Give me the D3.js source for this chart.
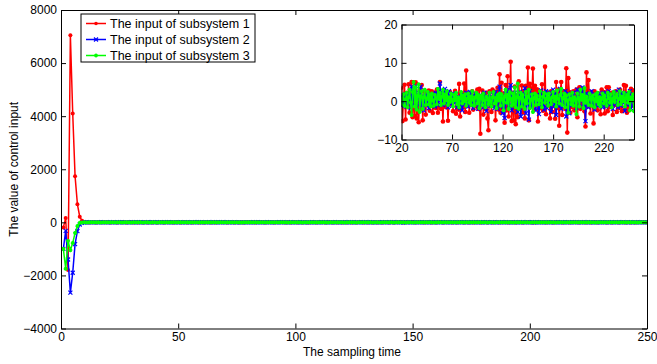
<!DOCTYPE html>
<html><head><meta charset="utf-8">
<script src="https://cdn.jsdelivr.net/npm/d3@7"></script>
<style>
html,body{margin:0;padding:0;background:#fff;}
svg{display:block;font-family:"Liberation Sans",Arial,Helvetica,sans-serif;}
</style></head>
<body>
<script>
// ---------- DATA (t = 1..250) ----------
const seriesNames = ["The input of subsystem 1","The input of subsystem 2","The input of subsystem 3"];
const seriesColors = ["#ff0000","#0000ff","#00ff00"];
const mainXTicks = [0,50,100,150,200,250];
const mainYTicks = [-4000,-2000,0,2000,4000,6000,8000];
const insetXTicks = [20,70,120,170,220];
const insetYTicks = [-10,0,10,20];

const red = [
-190,160,-1800,7050,4100,1740,680,210,60,15,
4,-2,3,1,-2,2,-1,3,-1,
3.5,-5.2,1.0,4.3,-4.8,2.1,-1.5,4.4,-3.0,0.5,
5.0,-4.2,2.0,-3.8,4.9,-4.5,1.2,-5.5,3.0,-2.0,
4.2,-5.0,0.8,2.5,-3.5,2.0,-1.0,2.8,-2.5,1.5,
2.6,-3.1,0.5,2.2,-1.8,3.0,-3.0,1.2,5.0,-2.0,
1.8,-5.3,2.5,0.4,-1.6,2.2,-5.1,1.0,2.4,-0.8,
1.5,-2.6,0.8,2.7,-3.3,1.2,-2.2,4.5,-4.0,0.6,
2.0,-1.5,4.6,-2.8,8.0,-1.2,2.1,-3.0,1.6,-1.0,
2.6,-2.2,0.7,1.8,-1.4,3.0,-2.0,3.2,-8.5,0.8,
2.8,-3.5,1.6,-2.0,2.2,-4.5,-7.6,2.6,0.4,-2.8,
3.0,-1.2,2.5,-5.0,1.4,3.5,-2.2,7.0,-3.0,4.8,
-1.8,2.0,-5.6,4.2,-2.4,6.5,-4.0,1.0,10.3,-5.2,
2.2,-5.0,3.8,-6.0,1.5,-4.2,5.2,-2.0,0.6,4.1,
-3.0,2.6,-4.5,4.0,1.2,8.8,-5.0,4.5,3.3,2.0,
8.5,-2.2,4.0,-0.8,3.1,-5.3,2.4,1.5,-1.8,4.4,
-2.5,1.0,9.0,-3.4,2.3,-1.0,0.6,-4.5,2.6,-2.8,
1.4,2.0,-4.6,5.0,-1.8,3.0,-6.4,2.4,5.0,-3.6,
1.6,2.6,-2.0,8.6,-8.2,6.0,2.4,-3.0,0.8,-1.5,
2.6,-2.4,1.0,3.0,-4.2,0.8,3.6,-2.0,2.2,-1.0,
2.8,-2.6,-6.6,7.5,-1.4,5.5,1.0,-3.2,2.4,-0.8,
-5.8,2.6,-1.2,1.6,-2.4,2.0,0.6,-3.4,3.0,-1.0,
2.4,-3.2,1.0,3.6,-2.6,3.6,-1.6,0.8,2.2,-3.6,
1.4,-1.0,2.6,-2.8,0.6,-1.8,3.0,0.8,-2.6,1.2,
4.2,-2.2,4.0,-3.0,1.6,-2.4,0.4,3.2,-1.2,2.8,
2.6];

const blue = [
-1000,-320,-1400,-2650,-1900,-820,-330,-80,-20,-5,
2,-1,1,0,-2,1,2,-1,1,
-1.2,1.6,-0.8,0.4,1.8,-1.5,2.0,-0.5,1.2,-1.8,
3.8,-1.0,2.4,0.6,4.0,-1.6,1.0,2.2,-0.6,3.8,
-1.2,1.4,-2.4,0.8,1.6,-0.4,2.0,-1.8,0.6,1.2,
-0.8,1.8,0.2,-1.4,2.2,0.4,-1.0,1.6,4.6,0.2,
2.4,-1.0,1.2,3.2,-0.6,1.4,-1.6,2.6,0.2,1.4,
-1.2,2.0,0.6,-0.4,1.8,-1.6,1.0,0.4,-1.8,1.2,
-2.4,0.8,1.6,-0.8,2.2,0.2,-1.4,1.0,2.4,-0.6,
1.2,-1.8,0.4,2.0,-0.8,1.4,-2.0,0.6,1.6,-1.0,
0.8,-1.6,2.2,0.4,-2.6,1.0,0.2,1.8,-1.2,0.6,
-0.4,1.6,-1.8,2.4,0.0,-2.0,1.2,3.8,-1.4,0.8,
-3.2,1.4,-4.4,2.0,-0.6,3.0,-1.2,0.8,4.2,-2.4,
1.6,-1.0,2.2,-0.4,1.2,-2.8,0.6,2.4,-4.0,1.0,
2.0,-1.2,3.4,-3.2,1.4,0.2,-4.8,2.6,0.4,-1.6,
1.8,-0.2,0.6,-2.4,1.6,0.0,-3.4,1.2,2.8,-0.8,
1.4,-2.2,0.4,2.6,-1.8,1.0,-0.6,2.2,-2.8,0.8,
3.0,-1.4,2.0,-3.6,0.8,1.6,-1.2,3.2,-2.0,0.4,
1.8,-0.8,2.6,-4.0,0.6,2.0,-3.2,0.8,1.6,-1.0,
2.2,-0.4,1.0,-1.8,3.0,0.2,-1.4,2.4,0.6,3.6,
-0.8,1.6,-5.2,2.0,0.4,-1.6,1.2,-0.2,2.6,-1.0,
0.8,-2.2,1.6,0.2,-1.2,2.0,0.4,-0.8,1.4,-1.6,
2.2,0.0,-1.4,1.8,-0.6,2.6,-1.0,0.6,1.2,-2.0,
1.0,2.4,-0.8,0.4,-1.6,3.0,0.2,-1.2,2.2,-0.4,
1.6,-2.6,0.8,2.0,-1.0,0.4,2.6,-1.8,1.2,-0.2,
-0.6];

const green = [
-1000,-1750,-700,-1050,-780,-400,-140,-20,-5,3,
-2,1,0,2,-1,1,-2,0,1,
-0.8,0.6,1.8,-1.2,0.4,2.2,-1.6,1.0,3.0,-0.4,
-3.6,2.4,5.0,-1.4,3.6,-2.2,1.4,4.4,-2.8,1.2,
2.6,-2.0,1.0,3.0,-1.0,0.6,2.4,-0.8,1.6,-1.4,
2.0,0.2,-1.2,1.6,0.8,-0.8,3.2,0.6,2.2,-1.0,
1.2,3.0,-0.6,1.8,0.2,2.6,-1.0,1.0,-0.2,2.0,
0.4,-1.4,1.6,0.2,2.2,-0.8,1.0,-1.6,0.8,2.4,
-0.6,1.4,0.0,1.8,-1.2,0.6,2.0,-0.4,1.2,-1.0,
2.6,0.4,-1.2,1.0,2.2,-0.6,1.6,-1.8,0.8,1.4,
-1.0,2.0,0.2,-1.6,1.2,0.6,-0.8,2.2,0.0,-1.4,
1.0,2.4,-0.6,0.8,-1.8,1.6,0.2,2.0,-1.2,1.8,
0.4,-2.4,1.2,3.0,-0.4,1.6,-2.0,2.4,0.6,-1.2,
2.0,-0.8,3.6,-1.6,1.0,4.6,-2.0,0.8,2.2,-1.4,
1.6,0.2,-2.0,2.4,-0.6,1.2,3.0,-1.8,0.4,1.8,
-2.8,0.8,2.0,-1.0,1.4,0.4,-0.8,2.6,0.2,-1.6,
1.2,2.2,-0.4,0.6,1.8,-1.2,2.0,0.4,-0.8,1.0,
2.4,0.0,1.2,-1.4,2.8,0.6,-0.6,1.6,3.2,-1.0,
0.8,2.0,-1.6,1.4,0.2,-3.0,1.8,0.6,-0.8,2.2,
-1.2,1.0,0.4,-3.4,2.0,0.8,-1.4,3.0,0.4,1.6,
-1.8,3.4,-0.4,1.2,0.2,-1.0,2.0,0.8,-1.2,1.4,
0.6,-1.6,1.8,0.0,2.2,-0.8,1.0,-1.4,0.6,2.0,
-0.6,1.4,0.2,-1.2,2.2,0.8,-0.4,1.8,-1.6,0.6,
2.4,-0.2,1.0,1.8,-1.0,0.6,2.6,-0.8,1.2,0.0,
2.2,-1.4,0.8,1.6,-0.4,2.4,-2.4,1.0,0.2,1.8,
-2.6];

const seriesValues = [red, blue, green];
const timeSteps = d3.range(1, red.length + 1);

// ---------- LAYOUT ----------
const W = 657, H = 364;
const main = {left: 61, right: 647, top: 10, bottom: 328.5};
const inset = {left: 401.5, right: 634, top: 24.5, bottom: 139.5};
const FONT = 12;

const svg = d3.select("body").append("svg").attr("width", W).attr("height", H);

function markerPath(kind, s){
  if (kind === 1) return `M${-s},${-s}L${s},${s}M${-s},${s}L${s},${-s}`;
  return `M${-s},0L${s},0M0,${-s}L0,${s}M${-s*0.7},${-s*0.7}L${s*0.7},${s*0.7}M${-s*0.7},${s*0.7}L${s*0.7},${-s*0.7}`;
}

function drawSeries(g, x, y, idx, xMin, lw, r, ms){
  const vals = seriesValues[idx];
  const pts = timeSteps.map((t,i)=>[t, vals[i]]).filter(p => p[0] >= xMin);
  const line = d3.line().x(d=>x(d[0])).y(d=>y(d[1]));
  g.append("path").datum(pts).attr("d", line)
    .attr("fill","none").attr("stroke", seriesColors[idx]).attr("stroke-width", lw)
    .attr("stroke-linejoin","round");
  if (idx === 0) {
    g.selectAll(null).data(pts).enter().append("circle")
      .attr("cx", d=>x(d[0])).attr("cy", d=>y(d[1])).attr("r", r)
      .attr("fill", seriesColors[idx]);
  } else {
    g.selectAll(null).data(pts).enter().append("path")
      .attr("transform", d=>`translate(${x(d[0])},${y(d[1])})`)
      .attr("d", markerPath(idx, ms))
      .attr("stroke", seriesColors[idx]).attr("stroke-width", 1.2).attr("fill","none");
  }
}

function drawAxes(g, x, y, box, xt, yt){
  const tl = 5;
  const ax = (gen, tr, labels) => {
    const a = g.append("g").attr("transform", tr)
      .call(gen.tickSizeInner(-tl).tickSizeOuter(0).tickPadding(4)
        .tickFormat(labels ? d3.format("") : ""));
    a.selectAll("text").attr("font-size", FONT).attr("fill","#000")
      .attr("font-family",'"Liberation Sans",Arial,Helvetica,sans-serif');
    a.selectAll("line").attr("stroke","#000");
    a.select(".domain").attr("stroke","#000");
    return a;
  };
  ax(d3.axisBottom(x).tickValues(xt), `translate(0,${box.bottom})`, true);
  ax(d3.axisTop(x).tickValues(xt), `translate(0,${box.top})`, false);
  ax(d3.axisLeft(y).tickValues(yt), `translate(${box.left},0)`, true);
  ax(d3.axisRight(y).tickValues(yt), `translate(${box.right},0)`, false);
}

// ---------- MAIN PLOT ----------
const x = d3.scaleLinear().domain([0,250]).range([main.left, main.right]);
const y = d3.scaleLinear().domain([-4000,8000]).range([main.bottom, main.top]);

const gm = svg.append("g");
svg.append("defs").append("clipPath").attr("id","mclip").append("rect")
  .attr("x", main.left).attr("y", main.top)
  .attr("width", main.right-main.left).attr("height", main.bottom-main.top);
const gmData = gm.append("g").attr("clip-path","url(#mclip)");
[0,1,2].forEach(i => drawSeries(gmData, x, y, i, 0, 1.5, 2, 2));
drawAxes(gm, x, y, main, mainXTicks, mainYTicks);

// axis titles
svg.append("text").attr("x", (main.left+main.right)/2 - 2).attr("y", 356)
  .attr("text-anchor","middle").attr("font-size", FONT).text("The sampling time");
svg.append("text").attr("transform", `translate(18,${(main.top+main.bottom)/2}) rotate(-90)`)
  .attr("text-anchor","middle").attr("font-size", FONT).text("The value of control input");

// ---------- LEGEND ----------
const lg = svg.append("g");
lg.append("rect").attr("x", 81).attr("y", 14).attr("width", 174).attr("height", 48)
  .attr("fill","#fff").attr("stroke","#000").attr("stroke-width",1);
seriesNames.forEach((name, i) => {
  const yy = 23.5 + i*16;
  lg.append("line").attr("x1", 86).attr("x2", 106).attr("y1", yy).attr("y2", yy)
    .attr("stroke", seriesColors[i]).attr("stroke-width", 1.5);
  if (i === 0) lg.append("circle").attr("cx", 96).attr("cy", yy).attr("r", 1.8).attr("fill", seriesColors[i]);
  else lg.append("path").attr("transform", `translate(96,${yy})`).attr("d", markerPath(i, 2))
    .attr("stroke", seriesColors[i]).attr("stroke-width",1.2).attr("fill","none");
  lg.append("text").attr("x", 110).attr("y", yy + 4.5).attr("font-size", 12.5).text(name);
});

// ---------- INSET ----------
const xi = d3.scaleLinear().domain([20,250]).range([inset.left, inset.right]);
const yi = d3.scaleLinear().domain([-10,20]).range([inset.bottom, inset.top]);
const gi = svg.append("g");
gi.append("rect").attr("x", inset.left).attr("y", inset.top)
  .attr("width", inset.right-inset.left).attr("height", inset.bottom-inset.top).attr("fill","#fff");
svg.append("defs").append("clipPath").attr("id","iclip").append("rect")
  .attr("x", inset.left).attr("y", inset.top)
  .attr("width", inset.right-inset.left).attr("height", inset.bottom-inset.top);
const giData = gi.append("g").attr("clip-path","url(#iclip)");
[0,1,2].forEach(i => drawSeries(giData, xi, yi, i, 19, 1.5, 2.3, 2));
drawAxes(gi, xi, yi, inset, insetXTicks, insetYTicks);
</script>
</body></html>
